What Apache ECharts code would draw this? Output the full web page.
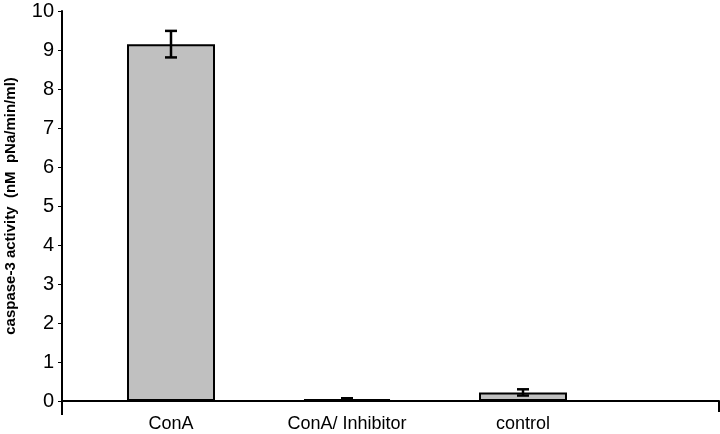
<!DOCTYPE html>
<html><head><meta charset="utf-8">
<script src="https://cdn.jsdelivr.net/npm/echarts@6/dist/echarts.min.js"></script>
<style>html,body{margin:0;padding:0;background:#fff}#c{width:720px;height:434px}</style>
</head><body><div id="c"></div>
<script>
var categories = ["ConA", "ConA/ Inhibitor", "control"];
var values = [9.15, 0.05, 0.22];
var errors = [0.34, 0.02, 0.08];
var yTicks = [0, 1, 2, 3, 4, 5, 6, 7, 8, 9, 10];
var yName = "caspase-3 activity  (nM  pNa/min/ml)";

var chart = echarts.init(document.getElementById('c'));
var errData = categories.map(function (c, i) { return [i, values[i] - errors[i], values[i] + errors[i]]; });
chart.setOption({
  animation: false,
  grid: [
    { left: 62, right: 1, top: 11, bottom: 33, containLabel: false, outerBoundsMode: 'none' },
    { left: 83, width: 528, top: 11, bottom: 33, containLabel: false, outerBoundsMode: 'none' }
  ],
  xAxis: [
    { gridIndex: 0, type: 'value', min: 0, max: 1, axisLine: { show: true, lineStyle: { color: '#000', width: 2 } },
      axisTick: { show: false }, axisLabel: { show: false }, splitLine: { show: false } },
    { gridIndex: 1, type: 'category', data: categories, axisLine: { show: false }, axisTick: { show: false },
      axisLabel: { color: '#000', fontFamily: 'Liberation Sans, Arial', fontSize: 18, margin: 14 } }
  ],
  yAxis: [
    { gridIndex: 0, type: 'value', min: 0, max: 10, interval: 1,
      axisLine: { show: true, lineStyle: { color: '#000', width: 2 } },
      axisTick: { show: true, length: 4, lineStyle: { color: '#000', width: 1 } },
      axisLabel: { color: '#000', fontFamily: 'Liberation Sans, Arial', fontSize: 20, margin: 8,
        formatter: function (v) { return yTicks.indexOf(v) >= 0 ? String(v) : ''; } },
      splitLine: { show: false },
      name: yName, nameLocation: 'middle', nameGap: 44, nameRotate: 90,
      nameTextStyle: { color: '#000', fontFamily: 'Liberation Sans, Arial', fontSize: 15, fontWeight: 'bold' } },
    { gridIndex: 1, type: 'value', min: 0, max: 10, show: false }
  ],
  series: [
    { type: 'bar', xAxisIndex: 1, yAxisIndex: 1, data: values, barWidth: '50%',
      itemStyle: { color: '#c0c0c0', borderColor: '#000', borderWidth: 2 } },
    { type: 'custom', xAxisIndex: 1, yAxisIndex: 1, data: errData, z: 10,
      renderItem: function (params, api) {
        var x = api.value(0);
        var lo = api.coord([x, api.value(1)]);
        var hi = api.coord([x, api.value(2)]);
        var hw = 6;
        var st = { stroke: '#000', lineWidth: 2.5 };
        return { type: 'group', children: [
          { type: 'line', shape: { x1: lo[0], y1: lo[1], x2: hi[0], y2: hi[1] }, style: st },
          { type: 'line', shape: { x1: lo[0] - hw, y1: lo[1], x2: lo[0] + hw, y2: lo[1] }, style: st },
          { type: 'line', shape: { x1: hi[0] - hw, y1: hi[1], x2: hi[0] + hw, y2: hi[1] }, style: st }
        ] };
      } }
  ],
  graphic: [
    { type: 'line', shape: { x1: 719, y1: 401, x2: 719, y2: 412 }, style: { stroke: '#000', lineWidth: 2 } },
    { type: 'line', shape: { x1: 62, y1: 401, x2: 62, y2: 415 }, style: { stroke: '#000', lineWidth: 2 } }
  ]
});
</script></body></html>
